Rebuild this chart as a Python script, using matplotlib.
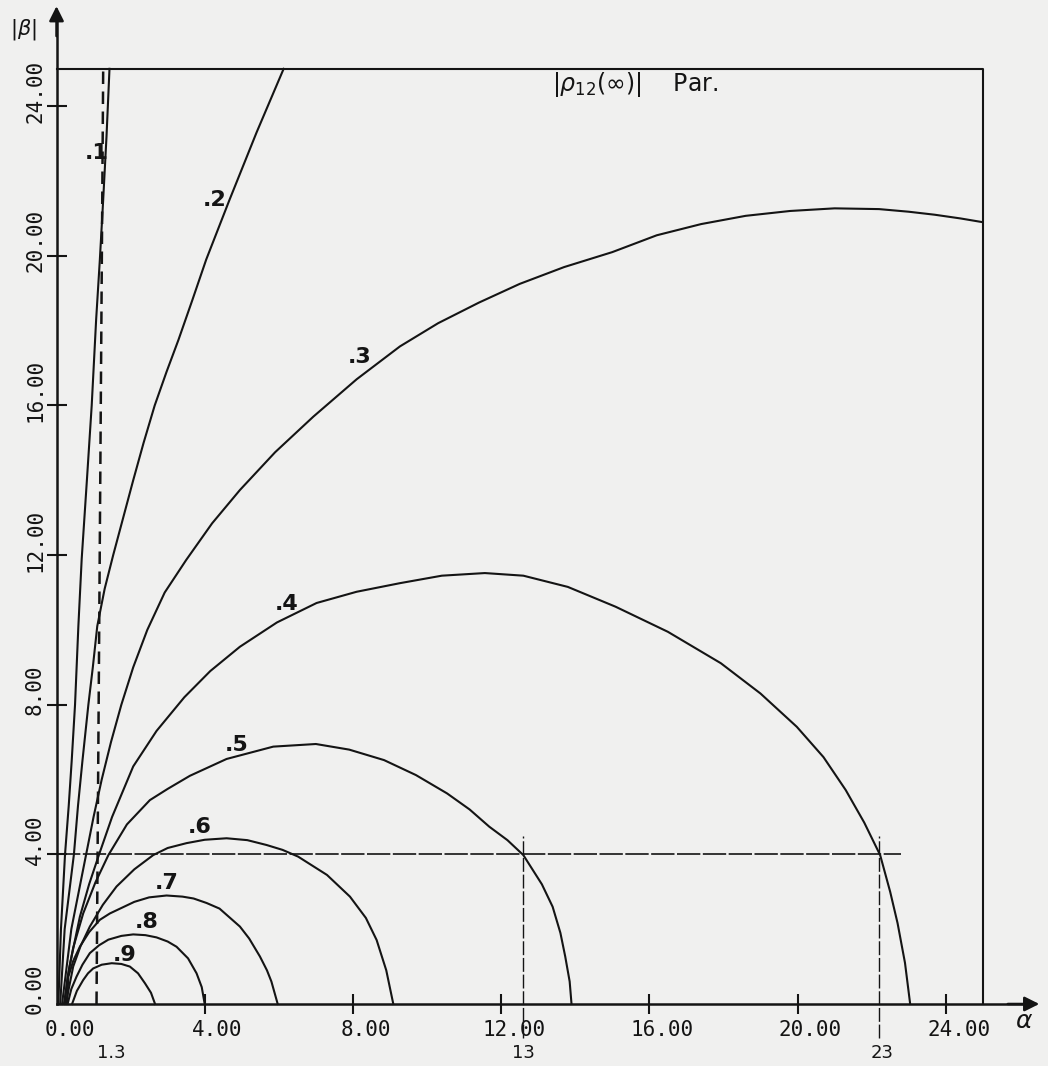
import numpy as np
import matplotlib
matplotlib.use("Agg")
import matplotlib.pyplot as plt

# contour levels of |rho12(inf)| (alpha, |beta|)
levels = [".1", ".2", ".3", ".4", ".5", ".6", ".7", ".8", ".9"]

x1 = [0.05, 0.12, 0.23, 0.33, 0.41, 0.5, 0.59, 0.68, 0.82, 0.95, 1.07, 1.17, 1.26, 1.35, 1.43]
y1 = [0.0, 2.0, 4.0, 5.3, 6.5, 8.0, 10.1, 11.9, 14.0, 16.0, 18.3, 19.9, 21.5, 23.2, 25.0]

x2 = [0.1, 0.22, 0.47, 0.58, 0.7, 0.86, 0.98, 1.1, 1.3, 1.53, 1.8, 2.07, 2.35, 2.65,
      2.97, 3.29, 3.66, 4.04, 4.67, 5.4, 6.13]
y2 = [0.0, 2.0, 4.0, 5.3, 6.5, 8.0, 9.0, 10.1, 11.1, 12.0, 13.0, 14.0, 15.0, 16.0,
      16.9, 17.75, 18.8, 19.9, 21.5, 23.3, 25.0]

x3 = [0.15, 0.4, 0.8, 1.0, 1.22, 1.47, 1.75, 2.07, 2.45, 2.92, 3.5, 4.2, 4.95, 5.9,
      6.93, 8.1, 9.27, 10.3, 11.4, 12.5, 13.7, 15.0, 16.2, 17.4, 18.6, 19.8, 21.0,
      22.2, 23.0, 23.7, 24.4, 25.0]
y3 = [0.0, 2.0, 4.0, 5.0, 6.0, 7.0, 8.0, 9.0, 10.0, 11.0, 11.87, 12.85, 13.74, 14.75,
      15.7, 16.7, 17.58, 18.2, 18.75, 19.25, 19.7, 20.1, 20.55, 20.85, 21.07, 21.2,
      21.27, 21.25, 21.18, 21.1, 21.0, 20.9]

x4 = [0.2, 0.35, 0.63, 0.88, 1.15, 1.5, 2.07, 2.7, 3.45, 4.15, 4.95, 5.95, 7.02,
      8.1, 9.27, 10.4, 11.56, 12.6, 13.8, 15.09, 16.5, 17.93, 19.0, 19.98, 20.7,
      21.3, 21.8, 22.23, 22.5, 22.7, 22.9, 23.04]
y4 = [0.0, 1.0, 2.33, 3.2, 4.0, 5.0, 6.35, 7.3, 8.2, 8.9, 9.55, 10.2, 10.72,
      11.02, 11.25, 11.45, 11.52, 11.45, 11.15, 10.62, 9.95, 9.11, 8.3, 7.41, 6.6,
      5.72, 4.85, 3.98, 3.0, 2.16, 1.1, 0.0]

x5 = [0.22, 0.3, 0.45, 0.72, 1.05, 1.4, 1.9, 2.52, 3.0, 3.6, 4.59, 5.85, 7.0, 7.9,
      8.84, 9.7, 10.54, 11.15, 11.68, 12.17, 12.6, 13.1, 13.39, 13.6, 13.73,
      13.85, 13.9]
y5 = [0.0, 0.73, 1.5, 2.42, 3.25, 3.98, 4.8, 5.45, 5.75, 6.1, 6.55, 6.88, 6.95, 6.8,
      6.52, 6.12, 5.63, 5.2, 4.74, 4.38, 3.98, 3.2, 2.6, 1.9, 1.27, 0.6, 0.0]

x6 = [0.25, 0.45, 0.65, 0.9, 1.25, 1.62, 2.1, 2.61, 3.0, 3.51, 4.0, 4.59, 5.15,
      5.67, 6.1, 6.52, 7.3, 7.92, 8.35, 8.64, 8.9, 9.09]
y6 = [0.0, 1.0, 1.55, 2.07, 2.65, 3.14, 3.6, 3.98, 4.17, 4.3, 4.39, 4.43, 4.38,
      4.25, 4.12, 3.94, 3.45, 2.87, 2.3, 1.71, 0.9, 0.0]

x7 = [0.28, 0.32, 0.45, 0.63, 0.88, 1.17, 1.44, 2.1, 2.5, 2.97, 3.4, 3.7, 4.05, 4.4,
      4.95, 5.2, 5.49, 5.68, 5.8, 5.97]
y7 = [0.0, 0.73, 1.15, 1.53, 1.92, 2.25, 2.42, 2.73, 2.85, 2.9, 2.87, 2.82, 2.7,
      2.55, 2.07, 1.75, 1.27, 0.9, 0.6, 0.0]

x8 = [0.3, 0.4, 0.54, 0.7, 0.9, 1.15, 1.4, 1.75, 2.07, 2.4, 2.7, 3.0, 3.24, 3.55,
      3.78, 3.92, 4.0]
y8 = [0.0, 0.4, 0.73, 1.05, 1.36, 1.57, 1.72, 1.82, 1.86, 1.84, 1.78, 1.67, 1.53,
      1.22, 0.82, 0.45, 0.0]

x9 = [0.42, 0.55, 0.72, 0.85, 0.99, 1.22, 1.49, 1.75, 1.98, 2.2, 2.39, 2.55, 2.66]
y9 = [0.0, 0.35, 0.64, 0.82, 0.95, 1.05, 1.09, 1.07, 1.0, 0.82, 0.55, 0.3, 0.0]

curves_x = [x1, x2, x3, x4, x5, x6, x7, x8, x9]
curves_y = [y1, y2, y3, y4, y5, y6, y7, y8, y9]

# where the level labels sit
label_x = [1.09, 4.28, 8.19, 6.2, 4.86, 3.87, 2.97, 2.43, 1.85]
label_y = [22.75, 21.5, 17.3, 10.7, 6.93, 4.74, 3.23, 2.2, 1.31]

xticks = [0, 4, 8, 12, 16, 20, 24]
yticks = [0, 4, 8, 12, 16, 20, 24]
tick_text = ["0.00", "4.00", "8.00", "12.00", "16.00", "20.00", "24.00"]

box = 25.0
guide_level = 4.0
guide_end = 22.8
mark_x = [12.6, 22.2]
mark_text = ["1.3", "13", "23"]
mark_text_x = [1.47, 12.59, 22.28]
dash_x = [1.08, 1.26]
dash_y = [0.0, 25.0]

ink = "#141414"
mono = "DejaVu Sans Mono"

fig = plt.figure(figsize=(10.48, 10.66), dpi=100, facecolor="#f0f0ef")
ax = fig.add_axes([0, 0, 1, 1])
ax.patch.set_visible(False)
ax.set_xlim(-1.525, 26.76)
ax.set_ylim(-1.658, 26.84)

for s in ["top", "right"]:
    ax.spines[s].set_visible(False)
ax.spines["left"].set_position(("data", 0))
ax.spines["bottom"].set_position(("data", 0))
ax.spines["left"].set_bounds(0, 26.3)
ax.spines["bottom"].set_bounds(0, 26.2)
for s in ["left", "bottom"]:
    ax.spines[s].set_linewidth(1.8)
    ax.spines[s].set_color(ink)

ax.set_xticks(xticks[1:], labels=[""] * (len(xticks) - 1))
ax.set_yticks(yticks[1:], labels=[""] * (len(yticks) - 1))
ax.tick_params(direction="inout", length=14, width=1.5, color=ink)

# arrow heads on the axes
ax.annotate("", xy=(0, 26.75), xytext=(0, 25.8),
            arrowprops=dict(arrowstyle="-|>", color=ink, lw=1.8, mutation_scale=22),
            annotation_clip=False)
ax.annotate("", xy=(26.6, 0), xytext=(25.6, 0),
            arrowprops=dict(arrowstyle="-|>", color=ink, lw=1.8, mutation_scale=22),
            annotation_clip=False)

# plot frame
ax.plot([0, box, box], [box, box, 0], color=ink, lw=1.5)

for cx, cy in zip(curves_x, curves_y):
    ax.plot(cx, cy, color=ink, lw=1.5, solid_joinstyle="round")

for lab, lx, ly in zip(levels, label_x, label_y):
    ax.text(lx, ly, lab, fontsize=16, fontweight="semibold", ha="center",
            va="center", color=ink)

# guide lines
ax.plot(dash_x, dash_y, color=ink, lw=1.8, linestyle=(0, (5, 3)))
ax.plot([0, guide_end], [guide_level, guide_level], color=ink, lw=1.2,
        linestyle=(0, (14, 1.5)))
for mx in mark_x:
    ax.plot([mx, mx], [-0.9, guide_level + 0.5], color=ink, lw=1.0,
            linestyle=(0, (10, 2)))

for t, lab in zip(xticks, tick_text):
    ax.text(t + 0.35, -0.7, lab, fontsize=15, family=mono, ha="center",
            va="center", color=ink)
for t, lab in zip(yticks, tick_text):
    ax.text(-0.58, t + 0.4, lab, fontsize=15, family=mono, ha="center",
            va="center", rotation=90, color=ink)

for mx, lab in zip(mark_text_x, mark_text):
    ax.text(mx, -1.3, lab, fontsize=13, ha="center", va="center", color=ink)

ax.text(13.37, 24.57, r"$|\rho_{12}(\infty)|$    Par.", fontsize=17,
        ha="left", va="center", color=ink)
ax.text(-0.9, 26.04, r"$|\beta|$", fontsize=15, ha="center", va="center",
        color=ink)
ax.text(26.11, -0.45, r"$\alpha$", fontsize=18, ha="center", va="center",
        color=ink)

fig.savefig("out.png", dpi=100, facecolor=fig.get_facecolor())
